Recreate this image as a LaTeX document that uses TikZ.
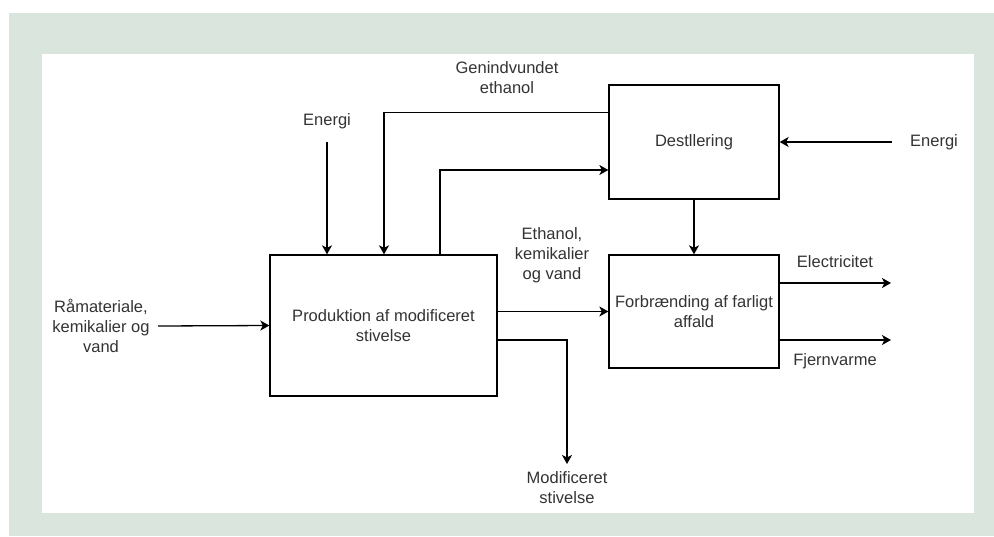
\documentclass[tikz,border=0pt]{standalone}
\usepackage{fontspec}
\setmainfont{Liberation Sans}
\usetikzlibrary{arrows.meta}
\definecolor{framegreen}{HTML}{DAE5DD}
\definecolor{txtgray}{HTML}{333333}
\begin{document}
\begin{tikzpicture}[x=1pt,y=-1pt,
    proc/.style={draw=black,line width=1.3pt,fill=white,align=center,text=txtgray,
      font=\fontsize{16.5}{20}\selectfont,inner sep=0pt},
    lbl/.style={align=center,text=txtgray,font=\fontsize{16.5}{20}\selectfont,inner sep=0pt},
    flow/.style={draw=black,line width=1.3pt,-{Stealth[length=9pt,width=10pt,inset=2.5pt]}},
    link/.style={draw=black,line width=1.3pt}]
    \useasboundingbox (0,0) rectangle (994,536);
    \fill[white] (0,0) rectangle (994,536);
    \fill[framegreen] (9,13) rectangle (994,536);
    \fill[white] (42,54) rectangle (974,513);
    \node[proc,minimum width=227pt,minimum height=141pt] (prod) at (383.5,325.5) {Produktion af modificeret\\stivelse};
    \node[proc,minimum width=170pt,minimum height=114pt] (dest) at (694,142) {Destllering};
    \node[proc,minimum width=170pt,minimum height=113pt] (forb) at (694,311.5) {Forbrænding af farligt\\affald};
    \node[lbl] (energia) at (327,121) {Energi};
    \node[lbl] (energib) at (934,142) {Energi};
    \node[lbl] (genind) at (507,78) {Genindvundet\\ethanol};
    \node[lbl] (raa) at (101,326) {Råmateriale,\\kemikalier og\\vand};
    \node[lbl] (ethvand) at (552,255) {Ethanol,\\kemikalier\\og vand};
    \node[lbl] (modst) at (567,488) {Modificeret\\stivelse};
    \node[lbl] (el) at (835,262) {Electricitet};
    \node[lbl] (fjern) at (835,361) {Fjernvarme};
    \coordinate (energiastart) at (327,142);
    \coordinate (energibstart) at (892,142);
    \coordinate (raastart) at (158,326);
    \coordinate (modstend) at (567,464);
    \coordinate (elend) at (891,283);
    \coordinate (fjernend) at (891,340);
    \draw[flow] (energiastart) -- (energiastart |- prod.north);
    \draw[flow] ([yshift=-28pt]dest.north west) -| ([xshift=0.5pt]prod.north);
    \draw[flow] ([xshift=56.5pt]prod.north) |- ([yshift=-28pt]dest.west);
    \draw[flow] (energibstart) -- (dest.east);
    \draw[flow] (dest.south) -- (forb.north);
    \draw[flow] (raastart) -- (prod.west);
    \draw[flow] (prod.east |- forb.west) -- (forb.west);
    \draw[flow] ([yshift=-14.5pt]prod.east) -| (modstend);
    \draw[flow] (forb.east |- elend) -- (elend);
    \draw[flow] (forb.east |- fjernend) -- (fjernend);
\end{tikzpicture}
\end{document}
